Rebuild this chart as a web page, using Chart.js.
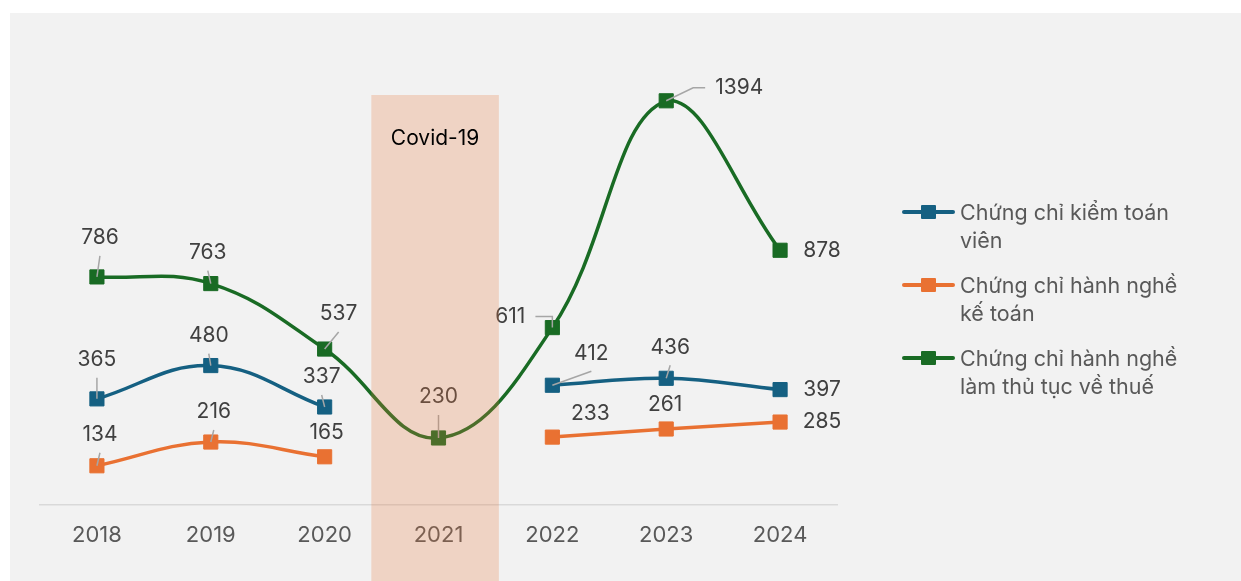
<!DOCTYPE html>
<html>
<head>
<meta charset="utf-8">
<script src="https://cdn.jsdelivr.net/npm/chart.js@4"></script>
<style>
  body { margin: 0; background: #fff; width: 1241px; height: 581px; overflow: hidden; position: relative; font-family: Inter, "Open Sans", sans-serif; }
  #khung { position: absolute; left: 10px; top: 13px; width: 1231px; height: 568px; background: #f2f2f2; }
  #chuThich { position: absolute; left: 902px; top: 198px; color: #595959; font-size: 21.5px; line-height: 28px; }
  .muc { position: relative; padding-left: 58px; margin-bottom: 17px; }
  .duong { position: absolute; left: 0; top: 12px; width: 53px; height: 4px; border-radius: 2px; }
  .vuong { position: absolute; left: 19px; top: -5px; width: 15px; height: 14px; border-radius: 1px; }
</style>
</head>
<body>
<div id="khung"><canvas id="bieuDo"></canvas></div>
<div id="chuThich"></div>
<script>
// du lieu
const nam = ['2018', '2019', '2020', '2021', '2022', '2023', '2024'];
const kiemToanVien = [365, 480, 337, null, 412, 436, 397];
const keToan = [134, 216, 165, null, 233, 261, 285];
const thuTucThue = [786, 763, 537, 230, 611, 1394, 878];
const tenChuoi = [
  ['Chứng chỉ kiểm toán', 'viên'],
  ['Chứng chỉ hành nghề', 'kế toán'],
  ['Chứng chỉ hành nghề', 'làm thủ tục về thuế']
];
const namCovid = '2021';
const nhanCovid = 'Covid-19';

const mau = ['#156082', '#E97132', '#196B24'];
const font = 'Inter, "Open Sans", sans-serif';

// vi tri nhan: [dx, dy, kieu duong dan] 0 = khong, 1 = thang, 2 = gap khuc
const viTriNhan = [
  [[0, -39, 1], [-2, -30, 1], [-3, -30, 1], null, [39, -32, 1], [4, -31, 1], [42, 0, 0]],
  [[3, -31, 1], [3, -30, 1], [2, -24, 0], null, [38, -23, 0], [-1, -24, 0], [42, 0, 0]],
  [[3, -39, 1], [-3, -31, 1], [14, -35, 1], [0, -41, 1], [-42, -11, 2], [73, -13, 2], [42, 0, 0]]
];

//nhan so lieu
const nhanSoLieu = {
  id: 'nhanSoLieu',
  afterDatasetsDraw(chart) {
    const ctx = chart.ctx;
    ctx.save();
    ctx.font = '21px ' + font;
    ctx.textAlign = 'center';
    ctx.textBaseline = 'middle';
    chart.data.datasets.forEach((ds, i) => {
      const meta = chart.getDatasetMeta(i);
      meta.data.forEach((diem, j) => {
        const v = ds.data[j];
        const vt = viTriNhan[i][j];
        if (v === null || !vt) return;
        const px = diem.x, py = diem.y;
        const lx = px + vt[0], ly = py + vt[1];
        const text = String(v);
        const w = ctx.measureText(text).width;
        ctx.strokeStyle = '#a6a6a6';
        ctx.lineWidth = 1.5;
        if (vt[2] === 1) {
          ctx.beginPath();
          ctx.moveTo(px, py);
          ctx.lineTo(lx, ly + 18);
          ctx.stroke();
        } else if (vt[2] === 2) {
          ctx.beginPath();
          if (vt[0] < 0) {
            ctx.moveTo(lx + w / 2 + 10, ly);
            ctx.lineTo(px, ly);
          } else {
            ctx.moveTo(lx - w / 2 - 10, ly);
            ctx.lineTo(lx - w / 2 - 22, ly);
          }
          ctx.lineTo(px, py);
          ctx.stroke();
        }
        ctx.fillStyle = '#404040';
        ctx.fillText(text, lx, ly);
      });
    });
    ctx.restore();
  }
};

//vung covid
const vungCovid = {
  id: 'vungCovid',
  afterDraw(chart) {
    const ctx = chart.ctx;
    const x = chart.scales.x;
    const idx = nam.indexOf(namCovid);
    const buoc = x.getPixelForValue(1) - x.getPixelForValue(0);
    const cx = x.getPixelForValue(idx);
    const trai = cx - buoc * 0.59;
    const phai = cx + buoc * 0.53;
    ctx.save();
    ctx.fillStyle = 'rgba(230, 118, 58, 0.25)';
    ctx.fillRect(trai, chart.chartArea.top, phai - trai, chart.height - chart.chartArea.top);
    ctx.fillStyle = '#000';
    ctx.font = '21px ' + font;
    ctx.textAlign = 'center';
    ctx.textBaseline = 'middle';
    ctx.fillText(nhanCovid, (trai + phai) / 2, chart.chartArea.top + 44);
    ctx.restore();
  }
};

const duLieu = [kiemToanVien, keToan, thuTucThue];

const datasets = duLieu.map((d, i) => ({
  label: tenChuoi[i].join(' '),
  data: d,
  borderColor: mau[i],
  backgroundColor: mau[i],
  borderWidth: 3.5,
  pointStyle: 'rect',
  pointRadius: 10,
  pointBorderWidth: 1,
  pointBorderColor: mau[i],
  tension: 0.4,
  spanGaps: false,
  clip: false
}));

const ctx = document.getElementById('bieuDo').getContext('2d');
const myChart = new Chart(ctx, {
  type: 'line',
  data: { labels: nam, datasets: datasets },
  options: {
    responsive: true,
    maintainAspectRatio: false,
    animation: false,
    layout: { padding: { left: 30, right: 404, top: 82, bottom: 14 } },
    plugins: { legend: { display: false }, tooltip: { enabled: false } },
    scales: {
      x: {
        offset: true,
        grid: { display: false, drawTicks: false },
        border: { display: true, color: '#d9d9d9', width: 1.5 },
        ticks: { color: '#595959', font: { size: 22, family: font }, padding: 18 }
      },
      y: { display: false, min: 0, max: 1414 }
    }
  },
  plugins: [nhanSoLieu, vungCovid]
});

//chu thich
const chuThich = document.getElementById('chuThich');
tenChuoi.forEach((ten, i) => {
  const muc = document.createElement('div');
  muc.className = 'muc';
  muc.innerHTML = '<span class="duong" style="background:' + mau[i] + '"><span class="vuong" style="background:' + mau[i] + '"></span></span>' + ten.join('<br>');
  chuThich.appendChild(muc);
});
</script>
</body>
</html>
